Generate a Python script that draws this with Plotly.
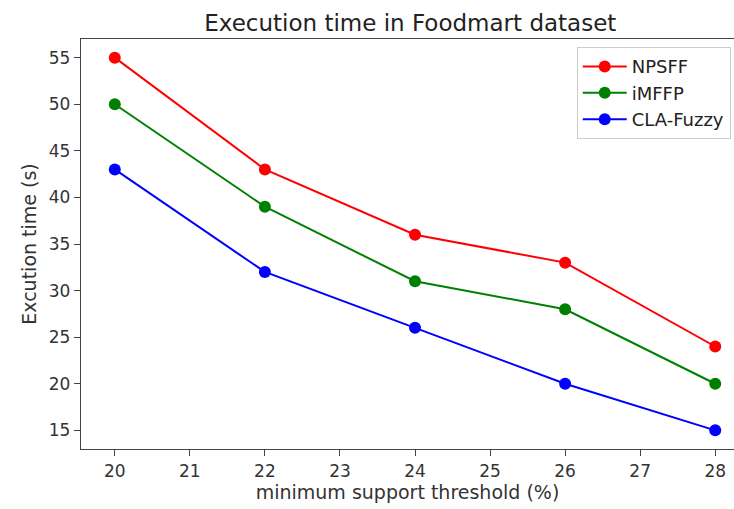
import plotly.graph_objects as go

thresholds = [20, 22, 24, 26, 28]
npsff = [55, 43, 36, 33, 24]
imffp = [50, 39, 31, 28, 20]
cla_fuzzy = [43, 32, 26, 20, 15]

series = [("NPSFF", npsff, "red"), ("iMFFP", imffp, "green"), ("CLA-Fuzzy", cla_fuzzy, "blue")]

fig = go.Figure()
for name, vals, col in series:
    fig.add_trace(go.Scatter(x=thresholds, y=vals, name=name, mode="lines+markers",
                             line=dict(color=col, width=2), marker=dict(color=col, size=12)))

font = "DejaVu Sans"
fig.update_layout(
    width=734, height=509,
    margin=dict(l=81, r=0, t=39, b=60),
    plot_bgcolor="white", paper_bgcolor="white",
    font=dict(family=font, size=18, color="#222"),
    title=dict(text="Execution time in Foodmart dataset", x=0.559, xanchor="center",
               y=0.955, yanchor="middle", font=dict(size=23, color="#222")),
    xaxis=dict(range=[19.55, 28.25], tickmode="array", tickvals=list(range(20, 29)),
               showgrid=False, zeroline=False, showline=True, mirror=True,
               linecolor="#444", linewidth=1.3, ticks="outside", ticklen=6, tickcolor="#444",
               tickfont=dict(size=17, color="#333"),
               title=dict(text="minimum support threshold (%)", font=dict(size=19, color="#333"), standoff=5)),
    yaxis=dict(range=[13, 57], tickmode="array", tickvals=list(range(15, 56, 5)),
               showgrid=False, zeroline=False, showline=True, mirror=False,
               linecolor="#444", linewidth=1.3, ticks="outside", ticklen=6, tickcolor="#444",
               tickfont=dict(size=17, color="#333"),
               title=dict(text="Excution time (s)", font=dict(size=19, color="#333"), standoff=7)),
    legend=dict(x=0.995, xanchor="right", y=0.98, yanchor="top", bgcolor="white",
                bordercolor="#ccc", borderwidth=1, font=dict(size=18, color="#222"),
                itemwidth=44, tracegroupgap=0),
    showlegend=True,
)
fig.write_html("out.html")
